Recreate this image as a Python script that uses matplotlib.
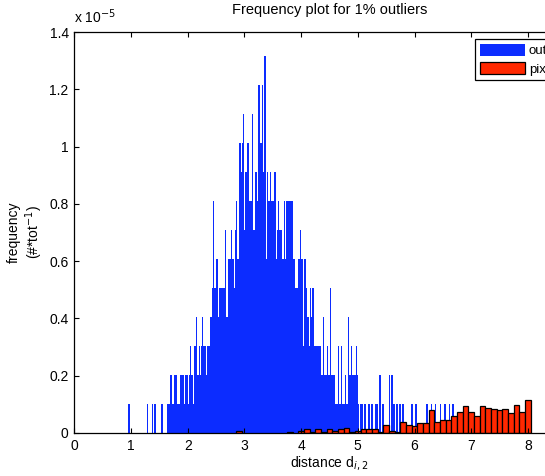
import numpy as np
import matplotlib
matplotlib.use("Agg")
import matplotlib.pyplot as plt
from matplotlib.ticker import FuncFormatter

plt.rcParams['font.family'] = ['Liberation Sans', 'DejaVu Sans']

# blue histogram: very fine bins, counts
blue_start = 0.947          # left edge of first bin (distance)
blue_width = 0.01764        # bin width
blue_unit = 0.1013          # one count, in units of 1e-5
blue_counts = [
    1, 1, 0, 0, 0, 0, 0, 0, 0, 0,
    0, 0, 0, 0, 0, 0, 0, 0, 0, 1,
    0, 0, 0, 0, 1, 0, 1, 1, 0, 0,
    0, 0, 0, 1, 1, 0, 0, 0, 0, 1,
    1, 1, 2, 2, 1, 1, 2, 2, 2, 1,
    1, 1, 2, 2, 2, 2, 1, 2, 2, 2,
    1, 2, 3, 2, 2, 1, 3, 3, 4, 2,
    2, 3, 2, 3, 4, 3, 3, 3, 2, 3,
    3, 3, 4, 4, 5, 8, 5, 5, 6, 6,
    4, 5, 5, 5, 5, 5, 5, 7, 4, 4,
    6, 6, 6, 7, 6, 6, 5, 7, 8, 6,
    6, 10, 10, 9, 10, 11, 7, 9, 9, 10,
    10, 8, 8, 8, 11, 7, 7, 9, 9, 8,
    12, 12, 10, 10, 12, 9, 13, 13, 6, 9,
    8, 8, 9, 8, 8, 8, 9, 9, 6, 7,
    8, 7, 7, 7, 6, 6, 8, 6, 8, 8,
    8, 8, 8, 8, 8, 6, 6, 5, 5, 5,
    6, 6, 7, 6, 6, 3, 6, 6, 5, 4,
    4, 3, 5, 4, 5, 5, 3, 3, 3, 3,
    3, 3, 3, 2, 2, 4, 2, 2, 2, 3,
    2, 2, 5, 2, 2, 2, 2, 1, 1, 1,
    3, 1, 1, 3, 1, 1, 1, 2, 1, 1,
    4, 2, 2, 3, 2, 2, 2, 2, 3, 2,
    1, 0, 1, 1, 1, 0, 1, 1, 0, 0,
    1, 1, 0, 1, 1, 0, 0, 1, 1, 1,
    0, 2, 2, 0, 1, 1, 0, 0, 0, 0,
    0, 2, 0, 2, 2, 1, 1, 0, 1, 1,
    0, 1, 1, 0, 1, 1, 0, 0, 0, 0,
    0, 0, 0, 1, 1, 0, 0, 1, 1, 0,
    0, 0, 0, 0, 0, 0, 0, 0, 1, 1,
    0, 0, 0, 1, 0, 0, 0, 1, 0, 0,
    0, 0, 1, 0, 0, 0, 1, 1, 0, 0,
    0, 1, 0, 0, 1, 1, 0,
]

# red histogram: 0.1 wide bins (heights in 1e-5)
red_centers = [2.9, 3.8, 4.0, 4.1, 4.2, 4.3, 4.4, 4.5, 4.6, 4.7, 4.8, 4.9,
               5.0, 5.1, 5.2, 5.3, 5.4, 5.5, 5.6, 5.7, 5.8, 5.9, 6.0, 6.1,
               6.2, 6.3, 6.4, 6.5, 6.6, 6.7, 6.8, 6.9, 7.0, 7.1, 7.2, 7.3,
               7.4, 7.5, 7.6, 7.7, 7.8, 7.9, 8.0]
red_heights = [0.008, 0.002, 0.008, 0.013, 0.003, 0.013, 0.004, 0.013, 0.008, 0.013, 0.018, 0.004,
               0.008, 0.013, 0.013, 0.013, 0.003, 0.028, 0.008, 0.003, 0.038, 0.028, 0.023, 0.034,
               0.034, 0.079, 0.038, 0.044, 0.044, 0.058, 0.073, 0.093, 0.073, 0.058, 0.093, 0.088,
               0.084, 0.079, 0.084, 0.069, 0.099, 0.073, 0.114]

legend_labels = ['outliers', 'pixels']
blue = '#0c2cff'
red = '#ff2800'

fig = plt.figure(figsize=(5.45, 4.76), dpi=100)
ax = fig.add_axes([74.3 / 545, 43 / 476, 510.3 / 545, 401 / 476])

edges = blue_start + blue_width * np.arange(len(blue_counts) + 1)
h1 = ax.stairs(np.array(blue_counts) * blue_unit, edges, fill=True,
               color=blue, linewidth=0)
h2 = ax.bar(red_centers, red_heights, width=0.1, color=red,
            edgecolor='black', linewidth=0.9)

ax.set_xlim(0, 9)
ax.set_ylim(0, 1.4)
ax.set_xticks(range(0, 9))
ax.set_yticks(np.arange(0, 1.41, 0.2))
ax.yaxis.set_major_formatter(FuncFormatter(lambda v, p: '%g' % round(v, 2)))
ax.tick_params(direction='in', top=True, right=True, length=3.5, width=0.8,
               labelsize=10, pad=4)
for s in ax.spines.values():
    s.set_linewidth(0.9)

ax.set_title('Frequency plot for 1% outliers', fontsize=10.5, pad=13)
ax.set_xlabel('distance d$_{i,2}$', fontsize=10, labelpad=1)
ax.set_ylabel('frequency\n(#*tot$^{-1}$)', fontsize=10, labelpad=3)
ax.text(0.0, 1.014, 'x 10$^{-5}$', transform=ax.transAxes, fontsize=10,
        ha='left', va='bottom')

leg = ax.legend([h1, h2], legend_labels, loc='upper left',
                bbox_to_anchor=(0.786, 0.9825), fontsize=9.5, fancybox=False,
                edgecolor='black', framealpha=1, handlelength=3.4,
                handleheight=1.06, labelspacing=0.36, borderpad=0.35,
                handletextpad=0.3, borderaxespad=0)
leg.get_frame().set_linewidth(0.9)

fig.savefig('out.png', dpi=100)
